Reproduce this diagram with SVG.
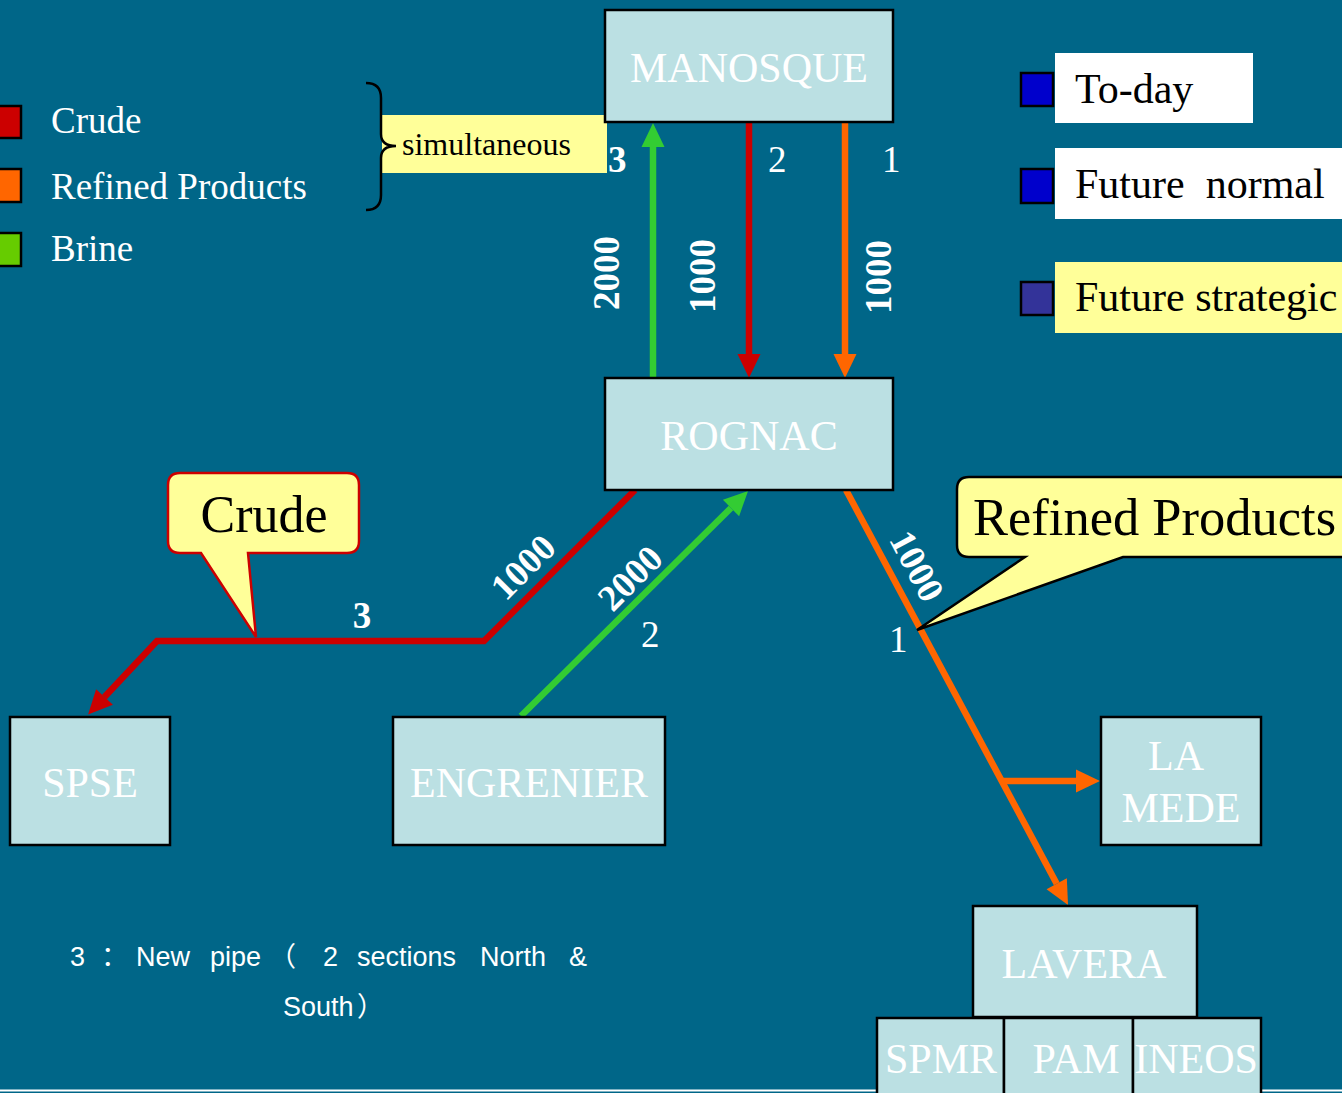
<svg xmlns="http://www.w3.org/2000/svg" width="1342" height="1093" viewBox="0 0 1342 1093">
  <style>
    .serif { font-family: "Liberation Serif", "Times New Roman", serif; }
    .node rect { fill: #BBE0E3; stroke: #000000; stroke-width: 2.5; }
    .node text { font-family: "Liberation Serif", serif; font-size: 42px; fill: #FFFFFF; text-anchor: middle; }
    .num { font-family: "Liberation Serif", serif; font-size: 37px; fill: #FFFFFF; }
    .bold { font-weight: bold; }
    .legend { font-family: "Liberation Serif", serif; font-size: 37px; fill: #FFFFFF; }
    .key { font-family: "Liberation Serif", serif; font-size: 42px; fill: #000000; white-space: pre; }
    .note { font-family: "Liberation Sans", "Noto Sans CJK SC", sans-serif; font-size: 27px; fill: #FFFFFF; }
    .pipe { fill: none; stroke-width: 6.5; stroke-linejoin: miter; }
    .crude { stroke: #CC0000; }
    .refined { stroke: #FF6600; }
    .brine { stroke: #33CC33; }
    .sq { stroke: #000000; stroke-width: 2.5; }
  </style>
  <defs>
    <marker id="headRed" viewBox="-2 -13 28 26" markerWidth="28" markerHeight="26" refX="0" refY="0" orient="auto" markerUnits="userSpaceOnUse" overflow="visible">
      <path d="M0,-11.5 L24,0 L0,11.5 Z" fill="#CC0000"/>
    </marker>
    <marker id="headOrange" viewBox="-2 -13 28 26" markerWidth="28" markerHeight="26" refX="0" refY="0" orient="auto" markerUnits="userSpaceOnUse" overflow="visible">
      <path d="M0,-11.5 L24,0 L0,11.5 Z" fill="#FF6600"/>
    </marker>
    <marker id="headGreen" viewBox="-2 -13 28 26" markerWidth="28" markerHeight="26" refX="0" refY="0" orient="auto" markerUnits="userSpaceOnUse" overflow="visible">
      <path d="M0,-11.5 L24,0 L0,11.5 Z" fill="#33CC33"/>
    </marker>
  </defs>

  <!-- background -->
  <rect x="0" y="0" width="1342" height="1093" fill="#006688"/>
  <line x1="0" y1="1090.5" x2="1342" y2="1090.5" stroke="#FFFFFF" stroke-width="2"/>

  <!-- product legend -->
  <g id="legend-products">
    <rect class="sq" x="-10" y="106" width="31" height="32" fill="#CC0000"/>
    <text class="legend" x="51" y="133">Crude</text>
    <rect class="sq" x="-10" y="169" width="31" height="33" fill="#FF6600"/>
    <text class="legend" x="51" y="199">Refined Products</text>
    <rect class="sq" x="-10" y="233" width="31" height="33" fill="#66CC00"/>
    <text class="legend" x="51" y="261">Brine</text>
  </g>

  <!-- brace and "simultaneous" tag -->
  <g id="simultaneous">
    <rect x="382" y="115" width="225" height="58" fill="#FFFF99"/>
    <path d="M366,83 Q381,83 381,98 L381,134 Q381,146 396,146 Q381,146 381,158 L381,195 Q381,210 366,210" fill="none" stroke="#000000" stroke-width="2.5"/>
    <text class="serif" x="402" y="155" font-size="32" fill="#000000">simultaneous</text>
  </g>

  <!-- status legend -->
  <g id="legend-status">
    <rect class="sq" x="1021" y="73" width="32" height="33" fill="#0000CC"/>
    <rect x="1055" y="53" width="198" height="70" fill="#FFFFFF"/>
    <text class="key" x="1075" y="103">To-day</text>
    <rect class="sq" x="1021" y="169" width="32" height="34" fill="#0000CC"/>
    <rect x="1055" y="148" width="290" height="71" fill="#FFFFFF"/>
    <text class="key" x="1075" y="198">Future  normal</text>
    <rect class="sq" x="1021" y="282" width="32" height="33" fill="#333399"/>
    <rect x="1055" y="262" width="290" height="71" fill="#FFFF99"/>
    <text class="key" x="1075" y="311">Future strategic</text>
  </g>

  <!-- pipelines -->
  <g id="connectors">
    <!-- Rognac -> Manosque, brine -->
    <path class="pipe brine" d="M653,378 L653,147" marker-end="url(#headGreen)"/>
    <!-- Manosque -> Rognac, crude -->
    <path class="pipe crude" d="M749,122 L749,354" marker-end="url(#headRed)"/>
    <!-- Manosque -> Rognac, refined products -->
    <path class="pipe refined" d="M845,122 L845,354" marker-end="url(#headOrange)"/>
    <!-- Rognac -> SPSE, crude (new pipe) -->
    <path class="pipe crude" d="M635,490 L484,641 L157,641 L104.5,697" marker-end="url(#headRed)"/>
    <!-- Engrenier -> Rognac, brine -->
    <path class="pipe brine" d="M521,716 L731,508" marker-end="url(#headGreen)"/>
    <!-- Rognac -> Lavera, refined products -->
    <path class="pipe refined" d="M846,490 L1056.7,883.8" marker-end="url(#headOrange)"/>
    <!-- branch to La Mede -->
    <path class="pipe refined" d="M1002,781 L1076,781" marker-end="url(#headOrange)"/>
  </g>

  <!-- pipe labels -->
  <g id="pipe-labels">
    <text class="num bold" x="608" y="172">3</text>
    <text class="num" x="768" y="172">2</text>
    <text class="num" x="882" y="172">1</text>
    <text class="num bold" transform="translate(619,273) rotate(-90)" text-anchor="middle">2000</text>
    <text class="num bold" transform="translate(715,276) rotate(-90)" text-anchor="middle">1000</text>
    <text class="num bold" transform="translate(891,277) rotate(-90)" text-anchor="middle">1000</text>
    <text class="num bold" transform="translate(523,567) rotate(-45)" text-anchor="middle" y="12.5">1000</text>
    <text class="num bold" transform="translate(630,578) rotate(-45)" text-anchor="middle" y="12.5">2000</text>
    <text class="num bold" transform="translate(917,566) rotate(61.9)" text-anchor="middle" y="12.5">1000</text>
    <text class="num bold" x="362" y="628" text-anchor="middle">3</text>
    <text class="num" x="641" y="647">2</text>
    <text class="num" x="889" y="652">1</text>
  </g>

  <!-- callouts -->
  <g id="callout-crude">
    <path d="M180,473 H347 Q359,473 359,485 V541 Q359,553 347,553 H248 L256,637 L201,553 H180 Q168,553 168,541 V485 Q168,473 180,473 Z" fill="#FFFF99" stroke="#CC0000" stroke-width="2.5"/>
    <text class="serif" x="264" y="532" font-size="52" fill="#000000" text-anchor="middle">Crude</text>
  </g>
  <g id="callout-refined">
    <path d="M969,477 H1352 V557 H1123 L917,630 L1025,557 H969 Q957,557 957,545 V489 Q957,477 969,477 Z" fill="#FFFF99" stroke="#000000" stroke-width="2.5"/>
    <text class="serif" x="973" y="535" font-size="52.5" fill="#000000">Refined Products</text>
  </g>

  <!-- sites -->
  <g id="manosque" class="node">
    <rect x="605" y="10" width="288" height="112"/>
    <text x="749" y="82">MANOSQUE</text>
  </g>
  <g id="rognac" class="node">
    <rect x="605" y="378" width="288" height="112"/>
    <text x="749" y="450">ROGNAC</text>
  </g>
  <g id="spse" class="node">
    <rect x="10" y="717" width="160" height="128"/>
    <text x="90" y="797">SPSE</text>
  </g>
  <g id="engrenier" class="node">
    <rect x="393" y="717" width="272" height="128"/>
    <text x="529" y="797">ENGRENIER</text>
  </g>
  <g id="la-mede" class="node">
    <rect x="1101" y="717" width="160" height="128"/>
    <text x="1176" y="770">LA</text>
    <text x="1181" y="822">MEDE</text>
  </g>
  <g id="lavera" class="node">
    <rect x="973" y="906" width="224" height="111"/>
    <text x="1084" y="978">LAVERA</text>
  </g>
  <g id="spmr" class="node">
    <rect x="877" y="1018" width="127" height="90"/>
    <text x="941" y="1073">SPMR</text>
  </g>
  <g id="pam" class="node">
    <rect x="1004" y="1018" width="129" height="90"/>
    <text x="1076" y="1073">PAM</text>
  </g>
  <g id="ineos" class="node">
    <rect x="1133" y="1018" width="128" height="90"/>
    <text x="1196" y="1073">INEOS</text>
  </g>

  <!-- footnote -->
  <g id="footnote" class="note">
    <text y="966"><tspan x="70">3</tspan><tspan x="101">：</tspan><tspan x="136">New</tspan><tspan x="210">pipe</tspan><tspan x="269">（</tspan><tspan x="323">2</tspan><tspan x="357">sections</tspan><tspan x="480">North</tspan><tspan x="569">&amp;</tspan></text>
    <text y="1016"><tspan x="283">South</tspan><tspan x="357">）</tspan></text>
  </g>
</svg>
